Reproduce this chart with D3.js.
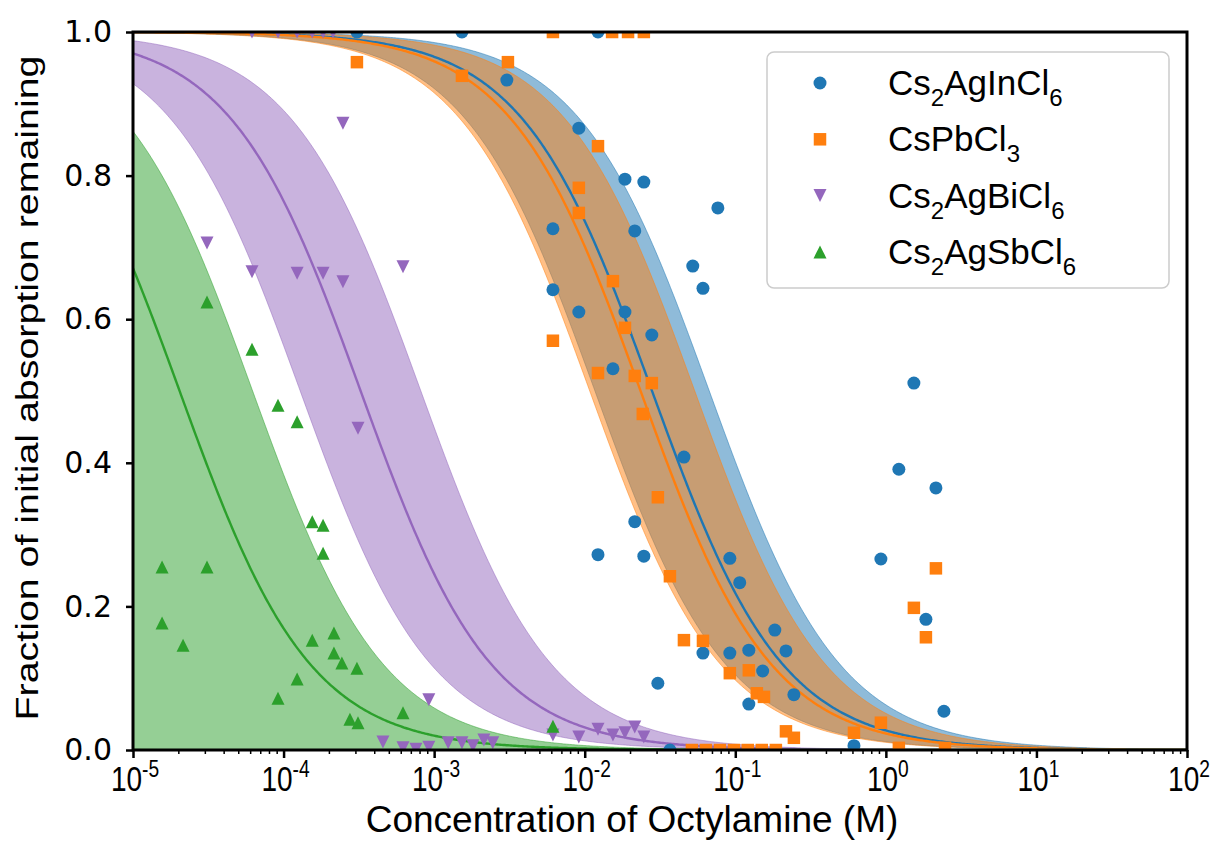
<!DOCTYPE html>
<html>
<head>
<meta charset="utf-8">
<script src="https://cdn.jsdelivr.net/npm/d3@7"></script>
<style>
body{margin:0;background:#fff;}
svg{display:block;}
</style>
</head>
<body>
<div id="chart"></div>
<script>
// concentrations (M) and fraction of absorption remaining
var inConc = [3.07e-4,1.53e-3,0.01225,3.04e-3,9.14e-3,0.0185,0.0247,0.0766,0.0215,6.15e-3,0.0522,0.061,6.15e-3,9.14e-3,0.0185,0.0279,0.0154,0.0456,0.0215,0.01225,0.0247,0.092,0.107,0.0306,0.183,0.061,0.092,0.123,0.217,0.152,0.245,0.123,0.0368,1.535,1.22,2.15,0.927,1.845,2.43,0.614];
var inFrac = [1.0,1.0,1.0,0.933,0.866,0.795,0.791,0.755,0.723,0.726,0.674,0.643,0.641,0.610,0.610,0.578,0.531,0.408,0.318,0.272,0.270,0.267,0.233,0.093,0.167,0.135,0.135,0.139,0.138,0.110,0.077,0.064,0.0,0.511,0.391,0.365,0.266,0.182,0.054,0.006];

var pbConc = [3.07e-4,1.53e-3,3.09e-3,6.15e-3,0.0152,0.0194,0.0247,0.01225,9.14e-3,9.14e-3,0.0154,0.0185,6.15e-3,0.01225,0.0215,0.0279,0.0243,0.0306,0.0368,0.0456,0.061,0.092,0.123,0.139,0.155,0.217,0.245,0.0515,0.0638,0.0791,0.098,0.121,0.150,0.186,2.15,1.535,1.845,0.927,0.614,1.22,2.47];
var pbFrac = [0.958,0.939,0.958,1.0,1.0,1.0,1.0,0.841,0.783,0.748,0.653,0.588,0.570,0.525,0.521,0.511,0.468,0.352,0.242,0.153,0.152,0.107,0.111,0.079,0.074,0.026,0.017,0,0,0,0,0,0,0,0.253,0.198,0.157,0.038,0.024,0.003,0.003];

var biConc = [6.17e-5,9.18e-5,1.23e-4,1.55e-4,1.83e-4,2.13e-4,2.48e-4,3.10e-5,6.17e-5,1.23e-4,1.83e-4,2.48e-4,6.21e-4,3.12e-4,9.22e-4,4.57e-4,6.21e-4,7.57e-4,9.22e-4,1.24e-3,1.53e-3,1.81e-3,2.14e-3,2.45e-3,6.15e-3,9.14e-3,0.01225,0.0154,0.0185,0.0215,0.0247];
var biFrac = [1.0,1.0,1.0,1.0,1.0,1.0,0.873,0.706,0.666,0.664,0.664,0.652,0.673,0.448,0.070,0.011,0.003,0.001,0.004,0.010,0.010,0.006,0.014,0.010,0.021,0.018,0.029,0.021,0.024,0.032,0.018];

var sbConc = [3.10e-5,6.17e-5,9.18e-5,1.23e-4,1.55e-4,1.83e-4,1.83e-4,1.56e-5,3.10e-5,1.56e-5,2.15e-5,2.16e-4,1.55e-4,2.16e-4,2.44e-4,3.07e-4,1.23e-4,9.18e-5,6.21e-4,2.76e-4,3.12e-4,6.15e-3];
var sbFrac = [0.624,0.558,0.480,0.457,0.318,0.313,0.274,0.255,0.255,0.177,0.146,0.163,0.153,0.135,0.121,0.114,0.099,0.072,0.052,0.043,0.038,0.033];

// dose-response fits: EC50 (M), Hill slope, band edges (EC50 of lower / upper bound)
var seriesNames = ["Cs2AgInCl6","CsPbCl3","Cs2AgBiCl6","Cs2AgSbCl6"];
var fitEC50 = [0.028, 0.0235, 3.25e-4, 2.04e-5];
var fitHill = [1, 1, 1, 1];
var bandLow = [0.0117, 0.0108, 1.29e-4, 1e-8];
var bandHigh = [0.0672, 0.0538, 8.16e-4, 6.23e-5];

var xTicks = [1e-5,1e-4,1e-3,1e-2,1e-1,1e0,1e1,1e2];
var xExp = ["-5","-4","-3","-2","-1","0","1","2"];
var yTicks = [0,0.2,0.4,0.6,0.8,1.0];

var colors = ["#1f77b4","#ff7f0e","#9467bd","#2ca02c"];
var shapes = ["circle","square","down","up"];

var W = 1217, H = 843;
var svg = d3.select("#chart").append("svg").attr("width", W).attr("height", H);

var x = d3.scaleLog().domain([1e-5, 1e2]).range([133, 1187]);
var y = d3.scaleLinear().domain([0, 1]).range([750, 32]);

svg.append("clipPath").attr("id", "plotclip")
	.append("rect").attr("x", 133).attr("y", 32).attr("width", 1054).attr("height", 718);

var plot = svg.append("g").attr("clip-path", "url(#plotclip)");

function hill(c, ec50, n){
	return 1 / (1 + Math.pow(c / ec50, n));
}

var grid = d3.range(0, 701).map(function(i){ return Math.pow(10, -5 + i * 0.01); });

// bands
seriesNames.forEach(function(name, i){
	var area = d3.area()
		.x(function(c){ return x(c); })
		.y0(function(c){ return y(hill(c, bandLow[i], fitHill[i])); })
		.y1(function(c){ return y(hill(c, bandHigh[i], fitHill[i])); });
	plot.append("path")
		.datum(grid)
		.attr("d", area)
		.attr("fill", colors[i])
		.attr("fill-opacity", 0.5)
		.attr("stroke", colors[i])
		.attr("stroke-opacity", 0.5)
		.attr("stroke-width", 1);
});

// fitted curves
seriesNames.forEach(function(name, i){
	var line = d3.line()
		.x(function(c){ return x(c); })
		.y(function(c){ return y(hill(c, fitEC50[i], fitHill[i])); });
	plot.append("path")
		.datum(grid)
		.attr("d", line)
		.attr("fill", "none")
		.attr("stroke", colors[i])
		.attr("stroke-width", 2.4);
});

function markerPath(shape, s){
	var h = s / 2;
	if (shape == "circle") return d3.symbol().type(d3.symbolCircle).size(Math.PI * h * h)();
	if (shape == "square") return "M" + (-h) + "," + (-h) + "H" + h + "V" + h + "H" + (-h) + "Z";
	if (shape == "up") return "M0," + (-h) + "L" + h + "," + h + "L" + (-h) + "," + h + "Z";
	return "M0," + h + "L" + h + "," + (-h) + "L" + (-h) + "," + (-h) + "Z";
}
var markerSize = [13, 12.5, 13, 13];

var allConc = [inConc, pbConc, biConc, sbConc];
var allFrac = [inFrac, pbFrac, biFrac, sbFrac];

seriesNames.forEach(function(name, i){
	var pts = allConc[i].map(function(c, k){ return {c: c, f: allFrac[i][k]}; });
	plot.append("g").selectAll("path")
		.data(pts)
		.enter().append("path")
		.attr("d", markerPath(shapes[i], markerSize[i]))
		.attr("transform", function(d){ return "translate(" + x(d.c) + "," + y(d.f) + ")"; })
		.attr("fill", colors[i]);
});

// axes
var minor = [];
for (var e = -5; e < 2; e++) {
	for (var m = 2; m < 10; m++) minor.push(m * Math.pow(10, e));
}
svg.append("g").attr("transform", "translate(0,750)")
	.call(d3.axisBottom(x).tickValues(minor).tickSize(4).tickFormat(""))
	.call(function(g){ g.select(".domain").remove(); g.selectAll("line").attr("stroke-width", 1.5); });
svg.append("g").attr("transform", "translate(0,750)")
	.call(d3.axisBottom(x).tickValues(xTicks).tickSize(8).tickFormat(""))
	.call(function(g){ g.select(".domain").remove(); g.selectAll("line").attr("stroke-width", 2.5); });

var xl = svg.append("g").selectAll("g")
	.data(xTicks)
	.enter().append("g")
	.attr("transform", function(d){ return "translate(" + (x(d) + 2) + ",791) scale(0.8,1)"; });
xl.append("text")
	.attr("text-anchor", "middle")
	.style("font-family", "Liberation Sans, Arial, sans-serif")
	.style("font-size", "35px")
	.each(function(d, i){
		var t = d3.select(this);
		t.append("tspan").text("10");
		t.append("tspan").attr("dy", -14).style("font-size", "24px").text(xExp[i]);
	});

svg.append("g").attr("transform", "translate(133,0)")
	.call(d3.axisLeft(y).tickValues(yTicks).tickSize(7).tickPadding(14).tickFormat(d3.format(".1f")))
	.call(function(g){
		g.select(".domain").remove();
		g.selectAll("line").attr("stroke-width", 2.5);
		g.selectAll("text")
			.style("font-family", "DejaVu Sans, sans-serif")
			.style("font-size", "30px")
			.attr("fill", "#000");
	});

// frame
svg.append("rect")
	.attr("x", 133).attr("y", 32).attr("width", 1054).attr("height", 718)
	.attr("fill", "none").attr("stroke", "#000").attr("stroke-width", 3);

// axis titles
svg.append("text")
	.attr("x", 632).attr("y", 832)
	.attr("text-anchor", "middle")
	.style("font-family", "Liberation Sans, Arial, sans-serif")
	.style("font-size", "37px")
	.text("Concentration of Octylamine (M)");

svg.append("text")
	.attr("transform", "translate(38,388) rotate(-90)")
	.attr("text-anchor", "middle")
	.attr("textLength", 665)
	.attr("lengthAdjust", "spacingAndGlyphs")
	.style("font-family", "Liberation Sans, Arial, sans-serif")
	.style("font-size", "31px")
	.text("Fraction of initial absorption remaining");

// legend
var legendParts = [
	[["Cs",""],["2","sub"],["AgInCl",""],["6","sub"]],
	[["CsPbCl",""],["3","sub"]],
	[["Cs",""],["2","sub"],["AgBiCl",""],["6","sub"]],
	[["Cs",""],["2","sub"],["AgSbCl",""],["6","sub"]]
];
var legend = svg.append("g");
legend.append("rect")
	.attr("x", 767).attr("y", 52).attr("width", 402).attr("height", 236)
	.attr("rx", 7)
	.attr("fill", "#fff").attr("fill-opacity", 0.8)
	.attr("stroke", "#cccccc").attr("stroke-width", 1.5);

seriesNames.forEach(function(name, i){
	var ry = 83 + i * 56.3;
	legend.append("path")
		.attr("d", markerPath(shapes[i], markerSize[i]))
		.attr("transform", "translate(820," + ry + ")")
		.attr("fill", colors[i]);
	var t = legend.append("text")
		.attr("x", 888).attr("y", ry + 12)
		.style("font-family", "Liberation Sans, Arial, sans-serif")
		.style("font-size", "35px");
	legendParts[i].forEach(function(p){
		var sp = t.append("tspan").text(p[0]);
		if (p[1] == "sub") {
			sp.style("font-size", "24px").attr("dy", 11);
		} else {
			sp.attr("dy", t.selectAll("tspan").size() > 1 ? -11 : 0);
		}
	});
});
</script>
</body>
</html>
